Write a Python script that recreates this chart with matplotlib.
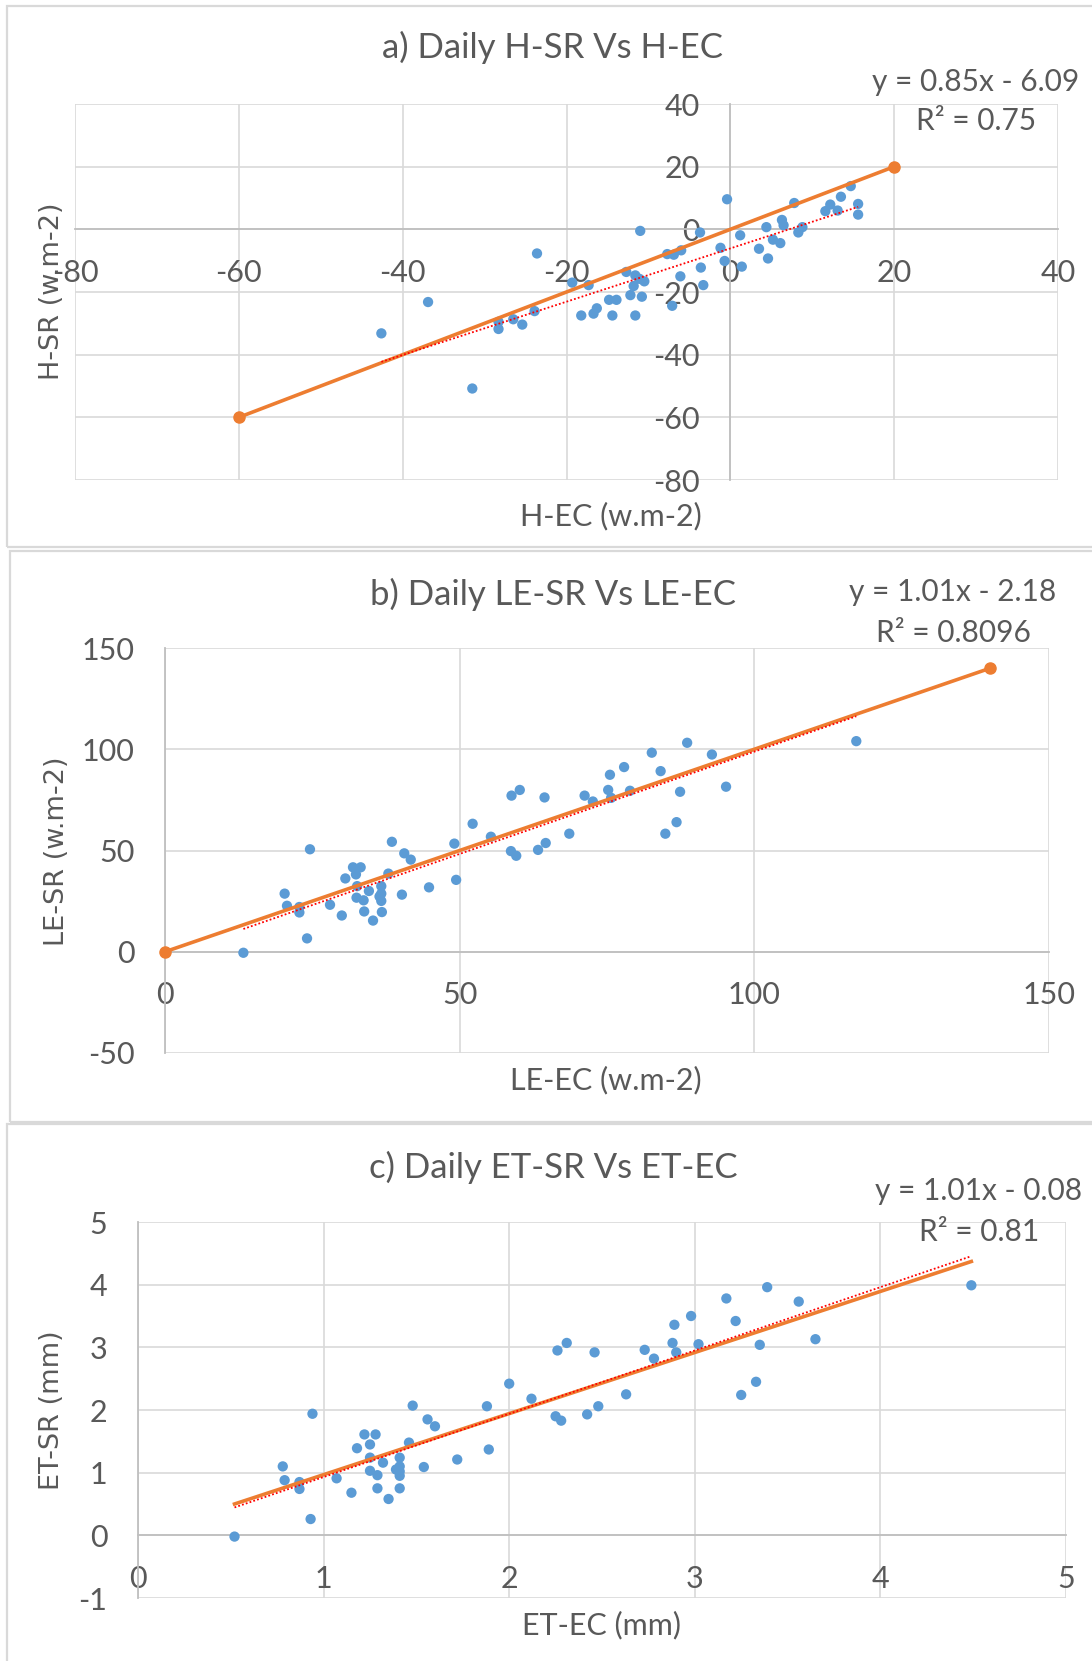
import numpy as np
import matplotlib.pyplot as plt
from matplotlib.patches import Rectangle

W, H = 1092, 1661
DPI = 100

# panel a) daily sensible heat, SR vs EC
h_ec = [-42.6, -36.9, -31.5, -28.3, -28.3, -26.5, -25.4, -23.9, -23.6, -19.3,
        -17.3, -18.2, -16.7, -16.3, -14.8, -13.9, -14.4, -12.7, -11.6, -11.6,
        -12.2, -11.8, -11.0, -10.8, -10.5, -11.1, -7.7, -6.9, -6.0, -7.1,
        -6.1, -3.7, -3.6, -3.3, -1.2, -0.7, -0.4, 1.2, 1.4, 3.5,
        4.4, 4.6, 5.2, 6.1, 6.3, 6.5, 7.8, 8.3, 8.8, 11.6,
        12.2, 13.1, 13.5, 14.7, 15.6, 15.6]
h_sr = [-33.2, -23.2, -50.8, -29.5, -31.8, -28.7, -30.4, -26.1, -7.7, -17.0,
        -17.8, -27.5, -26.9, -25.2, -22.5, -22.5, -27.5, -13.6, -14.7, -27.5,
        -21.0, -18.1, -0.5, -21.5, -16.6, -15.8, -7.9, -8.1, -6.7, -24.4,
        -15.0, -1.0, -12.2, -17.8, -5.9, -10.1, 9.6, -1.9, -11.9, -6.2,
        0.7, -9.3, -3.3, -4.4, 3.0, 1.3, 8.4, -1.0, 0.7, 5.8,
        7.9, 6.0, 10.4, 13.8, 8.1, 4.7]

# panel b) daily latent heat
le_ec = [13.3, 20.3, 20.7, 22.8, 22.8, 24.1, 24.6, 28.0, 30.0, 30.6,
         31.9, 32.4, 33.2, 32.6, 32.5, 33.7, 33.8, 34.6, 35.3, 36.4,
         36.7, 36.7, 36.7, 36.8, 37.9, 38.5, 40.2, 40.6, 41.7, 44.8,
         49.1, 49.4, 52.2, 55.3, 58.8, 58.7, 59.6, 60.2, 63.3, 64.4,
         64.6, 68.6, 71.2, 72.6, 75.2, 75.5, 75.7, 77.9, 78.9, 82.6,
         84.1, 84.9, 86.8, 87.4, 88.6, 92.8, 95.2, 117.3]
le_sr = [-0.5, 28.7, 22.7, 19.4, 22.1, 6.6, 50.6, 23.2, 17.9, 36.2,
         41.7, 38.2, 41.7, 32.4, 26.7, 25.4, 19.9, 30.0, 15.4, 27.3,
         32.4, 28.7, 25.1, 19.6, 38.6, 54.3, 28.2, 48.6, 45.5, 31.8,
         53.4, 35.5, 63.2, 56.8, 77.1, 49.7, 47.4, 79.9, 50.3, 76.2,
         53.7, 58.3, 77.1, 74.2, 79.9, 87.4, 76.0, 91.2, 79.5, 98.3,
         89.2, 58.3, 64.0, 79.0, 103.2, 97.4, 81.5, 104.0]

# panel c) daily evapotranspiration
et_ec = [0.52, 0.78, 0.79, 0.87, 0.87, 0.93, 0.94, 1.07, 1.15, 1.18,
         1.22, 1.25, 1.25, 1.25, 1.28, 1.29, 1.29, 1.32, 1.35, 1.39,
         1.41, 1.41, 1.41, 1.41, 1.41, 1.46, 1.48, 1.54, 1.56, 1.60,
         1.72, 1.88, 1.89, 2.00, 2.12, 2.25, 2.26, 2.28, 2.31, 2.42,
         2.46, 2.48, 2.63, 2.73, 2.78, 2.88, 2.89, 2.90, 2.98, 3.02,
         3.17, 3.22, 3.25, 3.33, 3.35, 3.39, 3.56, 3.65, 4.49]
et_sr = [-0.02, 1.10, 0.88, 0.85, 0.74, 0.26, 1.94, 0.91, 0.68, 1.39,
         1.61, 1.45, 1.24, 1.03, 1.61, 0.96, 0.75, 1.16, 0.58, 1.05,
         1.02, 1.24, 1.10, 0.95, 0.75, 1.48, 2.07, 1.09, 1.85, 1.74,
         1.21, 2.06, 1.37, 2.42, 2.18, 1.90, 2.95, 1.83, 3.07, 1.93,
         2.92, 2.06, 2.25, 2.96, 2.82, 3.07, 3.36, 2.92, 3.50, 3.05,
         3.78, 3.42, 2.24, 2.45, 3.04, 3.96, 3.73, 3.13, 3.99]

# orange reference lines
a_ref_x, a_ref_y = [-60, 20], [-60, 20]
b_ref_x, b_ref_y = [0, 140], [0, 140]
c_ref_x, c_ref_y = [0.52, 4.49], [0.50, 4.37]

# trendline coefficients (slope, intercept, r2)
a_fit = (0.85, -6.09, "0.75")
b_fit = (1.01, -2.18, "0.8096")
c_fit = (1.01, -0.08, "0.81")

BLUE = "#5B9BD5"
ORANGE = "#ED7D31"
GRID = "#D9D9D9"
AXIS = "#BFBFBF"
TXT = "#595959"
FONT = "Lato"

plt.rcParams['font.family'] = [FONT, 'DejaVu Sans']

fig = plt.figure(figsize=(W / DPI, H / DPI), dpi=DPI)


def fx(x):
    return x / W


def fy(y):
    return 1 - y / H


def panel(box, x, y, xlim, ylim, step_x, step_y, fit, ref_x, ref_y, ref_marker):
    x0, y0, x1, y1 = box
    ax = fig.add_axes([fx(x0), fy(y1), (x1 - x0) / W, (y1 - y0) / H])
    ax.set_xlim(xlim)
    ax.set_ylim(ylim)
    ax.set_xticks(np.arange(xlim[0], xlim[1] + step_x / 2, step_x))
    ax.set_yticks(np.arange(ylim[0], ylim[1] + step_y / 2, step_y))
    ax.xaxis.set_major_formatter(lambda v, p: f"{v:g}")
    ax.yaxis.set_major_formatter(lambda v, p: f"{v:g}")
    ax.grid(True, color=GRID, lw=1.2, zorder=0)
    ax.set_axisbelow(True)
    for s in ['top', 'right']:
        ax.spines[s].set_visible(False)
    ax.spines['left'].set_position(('data', 0))
    ax.spines['bottom'].set_position(('data', 0))
    for s in ['left', 'bottom']:
        ax.spines[s].set_color(AXIS)
        ax.spines[s].set_linewidth(1.3)
    ax.tick_params(axis='x', length=0, pad=21, labelsize=22, labelcolor=TXT)
    ax.tick_params(axis='y', length=0, pad=22, labelsize=22, labelcolor=TXT)

    ax.scatter(x, y, s=55, color=BLUE, edgecolors='none', zorder=3, clip_on=False)
    ax.plot(ref_x, ref_y, color=ORANGE, lw=2.6, zorder=4, clip_on=False,
            marker='o' if ref_marker else None, ms=8)
    tx = np.array([min(x), max(x)])
    ax.plot(tx, fit[0] * tx + fit[1], color='red', lw=1.3, dashes=(1, 1.2),
            zorder=5)
    return ax


panel((75, 104, 1058, 480), h_ec, h_sr, (-80, 40), (-80, 40), 20, 20,
      a_fit, a_ref_x, a_ref_y, True)
panel((165, 648, 1049, 1053), le_ec, le_sr, (0, 150), (-50, 150), 50, 50,
      b_fit, b_ref_x, b_ref_y, True)
panel((138, 1222, 1066, 1598), et_ec, et_sr, (0, 5), (-1, 5), 1, 1,
      c_fit, c_ref_x, c_ref_y, False)

# chart-area borders
for (x0, y0, x1, y1) in [(7, 6, 1100, 547), (10, 551, 1100, 1122), (7, 1124, 1100, 1670)]:
    fig.add_artist(Rectangle((fx(x0), fy(y1)), (x1 - x0) / W, (y1 - y0) / H,
                             transform=fig.transFigure, fill=False,
                             edgecolor=GRID, lw=1.6))

titles = [("a) Daily H-SR Vs H-EC", 552, 47),
          ("b) Daily LE-SR Vs LE-EC", 553, 594),
          ("c) Daily ET-SR Vs ET-EC", 553, 1167)]
for t, x, y in titles:
    fig.text(fx(x), fy(y), t, ha='center', va='center', fontsize=25, color=TXT)

xlabels = [("H-EC (w.m-2)", 611, 516),
           ("LE-EC (w.m-2)", 606, 1080),
           ("ET-EC (mm)", 602, 1625)]
for t, x, y in xlabels:
    fig.text(fx(x), fy(y), t, ha='center', va='center', fontsize=22, color=TXT)

ylabels = [("H-SR (w.m-2)", 52, 291),
           ("LE-SR (w.m-2)", 57, 851),
           ("ET-SR (mm)", 52, 1410)]
for t, x, y in ylabels:
    fig.text(fx(x), fy(y), t, ha='center', va='center', fontsize=19.5, color=TXT,
             rotation=90, family='DejaVu Sans')

eqs = [(a_fit, 976, 82, 121), (b_fit, 953, 592, 633), (c_fit, 979, 1191, 1232)]
for (m, b, r2), x, y1, y2 in eqs:
    fig.text(fx(x), fy(y1), f"y = {m:.2f}x - {abs(b):.2f}", ha='center', va='center',
             fontsize=21.5, color=TXT)
    fig.text(fx(x), fy(y2), f"R² = {r2}", ha='center', va='center',
             fontsize=21.5, color=TXT)

fig.savefig("out.png", dpi=DPI)
